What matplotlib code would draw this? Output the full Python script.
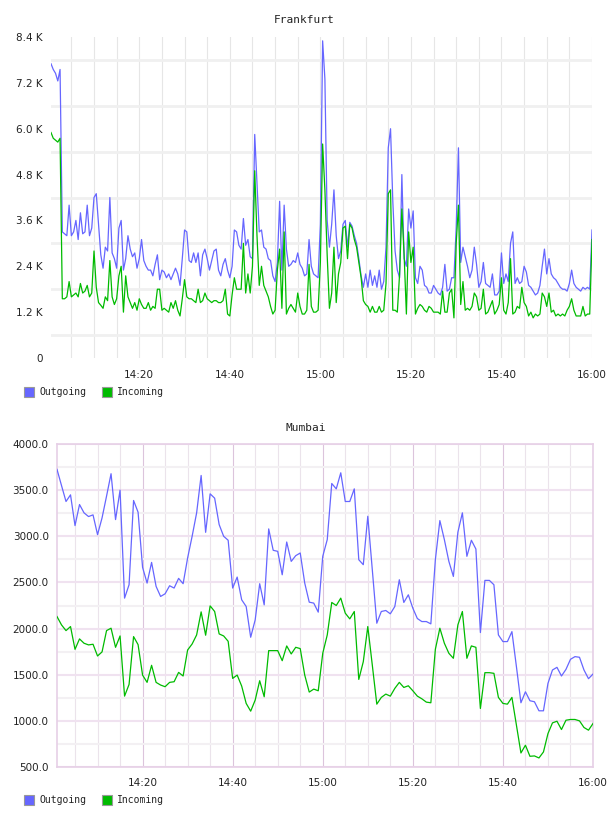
import numpy as np
import pandas as pd
import matplotlib
matplotlib.use('Agg')
import matplotlib.pyplot as plt
import matplotlib.dates as mdates
from matplotlib.patches import Rectangle

# Frankfurt traffic in K, one sample every 30 s starting 14:00:30
fra_out = [
    7.7, 7.55, 7.45, 7.25, 7.55, 3.3, 3.25, 3.2, 4.0, 3.2,
    3.3, 3.6, 3.1, 3.8, 3.25, 3.3, 4.0, 3.2, 3.4, 4.2,
    4.3, 3.5, 2.7, 2.35, 2.9, 2.8, 4.2, 2.75, 2.6, 2.35,
    3.4, 3.6, 2.3, 2.6, 3.2, 2.85, 2.65, 2.75, 2.35, 2.6,
    3.1, 2.55, 2.4, 2.3, 2.3, 2.15, 2.45, 2.7, 2.05, 2.3,
    2.25, 2.1, 2.2, 2.05, 2.2, 2.35, 2.2, 1.9, 2.6, 3.35,
    3.3, 2.55, 2.5, 2.75, 2.5, 2.75, 2.15, 2.7, 2.85, 2.6,
    2.3, 2.55, 2.8, 2.85, 2.3, 2.15, 2.45, 2.6, 2.3, 2.1,
    2.4, 3.35, 3.3, 2.95, 2.85, 3.65, 2.95, 3.1, 2.65, 2.6,
    5.85, 4.6, 3.3, 3.35, 2.9, 2.85, 2.6, 2.55, 2.15, 2.0,
    2.5, 4.1, 2.3, 4.0, 2.85, 2.4, 2.45, 2.55, 2.5, 2.75,
    2.45, 2.35, 2.15, 2.2, 3.1, 2.4, 2.2, 2.15, 2.1, 3.5,
    8.3, 7.3, 3.6, 2.9, 3.5, 4.4, 3.2, 2.6, 2.8, 3.5,
    3.6, 2.9, 3.55, 3.45, 3.2, 3.0, 2.6, 2.15, 1.85, 2.2,
    1.85, 2.3, 1.9, 2.15, 1.85, 2.3, 1.8, 2.0, 2.9, 5.5,
    6.0, 4.1, 2.8, 2.3, 2.1, 4.8, 2.6, 2.4, 3.9, 3.4,
    3.85, 2.1, 1.95, 2.4, 2.3, 1.9, 1.85, 1.7, 1.7, 1.9,
    1.8, 1.7, 1.65, 1.85, 2.45, 1.75, 1.8, 2.1, 2.1, 3.4,
    5.5, 2.5, 2.9, 2.65, 2.4, 2.1, 2.3, 2.9, 2.45, 1.85,
    2.0, 2.5, 1.95, 1.9, 1.85, 2.2, 1.65, 1.65, 1.75, 2.75,
    1.95, 2.2, 2.0, 3.0, 3.3, 1.95, 2.1, 1.95, 2.0, 2.4,
    2.25, 1.9, 1.85, 1.75, 1.65, 1.7, 1.9, 2.4, 2.85, 2.2,
    2.6, 2.2, 2.1, 2.05, 1.95, 1.85, 1.8, 1.8, 1.75, 1.95,
    2.3, 1.95, 1.85, 1.8, 1.75, 1.85, 1.8, 1.85, 1.8, 3.35,
]
fra_in = [
    5.9, 5.75, 5.7, 5.65, 5.75, 1.55, 1.55, 1.6, 2.0, 1.6,
    1.65, 1.7, 1.6, 1.95, 1.7, 1.75, 1.9, 1.6, 1.7, 2.8,
    1.85, 1.45, 1.38, 1.3, 1.6, 1.5, 2.55, 1.6, 1.4, 1.55,
    2.15, 2.4, 1.2, 2.15, 1.6, 1.45, 1.3, 1.45, 1.25, 1.55,
    1.4, 1.3, 1.3, 1.45, 1.25, 1.35, 1.3, 1.8, 1.8, 1.25,
    1.3, 1.25, 1.2, 1.45, 1.3, 1.5, 1.25, 1.1, 1.55, 2.05,
    1.6, 1.55, 1.55, 1.5, 1.45, 1.8, 1.45, 1.5, 1.7, 1.55,
    1.5, 1.45, 1.5, 1.5, 1.45, 1.45, 1.5, 1.8, 1.15, 1.1,
    1.65, 2.1, 1.8, 1.8, 1.8, 3.0, 1.7, 2.2, 1.7, 2.4,
    4.9, 3.2, 1.9, 2.4, 1.9, 1.75, 1.6, 1.35, 1.15, 1.25,
    2.3, 2.85, 1.3, 3.3, 1.15, 1.3, 1.4, 1.3, 1.2, 1.7,
    1.35, 1.15, 1.15, 1.25, 2.45, 1.35, 1.2, 1.2, 1.25, 2.5,
    5.6, 4.4, 2.7, 1.3, 1.7, 2.9, 1.45, 2.2, 2.5, 3.4,
    3.45, 2.6, 3.5, 3.4, 3.1, 2.9, 2.5, 2.1, 1.5, 1.4,
    1.35, 1.2, 1.35, 1.2, 1.2, 1.35, 1.2, 1.25, 1.95, 4.3,
    4.4, 1.25, 1.25, 1.2, 2.2, 3.9, 2.7, 1.15, 3.3, 2.5,
    2.9, 1.15, 1.3, 1.4, 1.35, 1.25, 1.2, 1.35, 1.3, 1.2,
    1.2, 1.2, 1.15, 1.75, 1.2, 1.2, 1.7, 1.8, 1.05, 3.0,
    4.0, 1.4, 2.0, 1.25, 1.3, 1.25, 1.35, 1.7, 1.6, 1.25,
    1.3, 1.8, 1.15, 1.2, 1.35, 1.5, 1.15, 1.25, 1.4, 2.1,
    1.25, 1.15, 1.45, 2.6, 1.15, 1.2, 1.35, 1.3, 1.85, 1.45,
    1.35, 1.1, 1.2, 1.05, 1.15, 1.1, 1.15, 1.7, 1.6, 1.35,
    1.7, 1.2, 1.25, 1.1, 1.15, 1.1, 1.15, 1.1, 1.25, 1.35,
    1.55, 1.25, 1.1, 1.1, 1.1, 1.35, 1.1, 1.15, 1.15, 3.1,
]
fra_yticks = [0, 1.2, 2.4, 3.6, 4.8, 6.0, 7.2, 8.4]
fra_ylabels = ['0', '1.2 K', '2.4 K', '3.6 K', '4.8 K', '6.0 K', '7.2 K', '8.4 K']

# Mumbai traffic, one sample per minute from 14:01 to 16:00
mum_out = [
    3725, 3550, 3377, 3449, 3116, 3344, 3254, 3214, 3232, 3018,
    3199, 3435, 3678, 3181, 3500, 2330, 2475, 3388, 3261, 2663,
    2493, 2717, 2457, 2348, 2377, 2464, 2439, 2544, 2486, 2765,
    3000, 3254, 3659, 3043, 3460, 3413, 3127, 3000, 2957, 2439,
    2558, 2312, 2239, 1906, 2094, 2486, 2257, 3080, 2848, 2837,
    2583, 2938, 2728, 2790, 2819, 2493, 2286, 2276, 2178,
    2783, 2964, 3572, 3514, 3688, 3377, 3377, 3514, 2746, 2692,
    3217, 2638, 2058, 2185, 2196, 2160, 2239, 2529, 2283, 2366,
    2221, 2109, 2076, 2076, 2051, 2746, 3170, 2964, 2728, 2565,
    3044, 3254, 2783, 2957, 2862, 1957, 2522, 2522, 2475, 1931,
    1859, 1859, 1967, 1587, 1196, 1315, 1218, 1207, 1109, 1109,
    1406, 1551, 1580, 1486, 1558, 1667, 1696, 1689, 1551, 1457,
    1507,
]
mum_in = [
    2130, 2040, 1978, 2022, 1775, 1888, 1841, 1823, 1830, 1703,
    1747, 1978, 2004, 1797, 1920, 1268, 1395, 1913, 1826, 1496,
    1417, 1602, 1417, 1388, 1370, 1417, 1424, 1525, 1486, 1768,
    1833, 1931, 2181, 1928, 2246, 2185, 1942, 1920, 1862, 1460,
    1496, 1377, 1189, 1105, 1225, 1435, 1261, 1761, 1761, 1761,
    1652, 1812, 1725, 1797, 1783, 1496, 1312, 1344, 1326,
    1732, 1931, 2283, 2250, 2330, 2167, 2105, 2185, 1449, 1641,
    2022, 1605, 1181, 1254, 1290, 1268, 1352, 1417, 1362, 1380,
    1326, 1268, 1239, 1203, 1196, 1775, 2004, 1841, 1732, 1678,
    2040, 2185, 1678, 1812, 1797, 1134, 1522, 1522, 1515, 1254,
    1189, 1181, 1254, 953, 652, 736, 616, 620, 598, 663,
    862, 978, 996, 906, 1007, 1015, 1015, 1000, 928, 899,
    971,
]
mum_yticks = [500, 1000, 1500, 2000, 2500, 3000, 3500, 4000]
mum_ylabels = ['500.0', '1000.0', '1500.0', '2000.0', '2500.0', '3000.0', '3500.0', '4000.0']

xtick_labels = ['14:20', '14:40', '15:00', '15:20', '15:40', '16:00']
series_names = ['Outgoing', 'Incoming']

day = '2014-01-01 '
fra_times = pd.date_range(day + '14:00:30', periods=len(fra_out), freq='30s')
mum_times = pd.date_range(day + '14:01', periods=len(mum_out), freq='1min')
xticks = pd.to_datetime([day + t for t in xtick_labels])

BLUE = '#6666ff'
GREEN = '#00bb00'
TXT = '#222222'
MONO = 'DejaVu Sans Mono'
W, H = 608, 816

fig = plt.figure(figsize=(W / 100, H / 100), dpi=100)


def px_axes(left, top, right, bottom):
    return fig.add_axes([left / W, 1 - bottom / H, (right - left) / W, (bottom - top) / H])


def legend(yc):
    for name, color, x in zip(series_names, [BLUE, GREEN], [24, 102]):
        fig.add_artist(Rectangle((x / W, 1 - (yc + 5) / H), 10 / W, 10 / H,
                                 facecolor=color, edgecolor='#999999', lw=0.8,
                                 transform=fig.transFigure))
        fig.text((x + 15) / W, 1 - yc / H, name, ha='left', va='center',
                 family=MONO, fontsize=7, color=TXT)


five_min = mdates.MinuteLocator(byminute=range(0, 60, 5))

# --- Frankfurt ---
ax1 = px_axes(51, 37, 592, 358)
ax1.plot(fra_times, fra_out, color=BLUE, lw=0.9, zorder=3)
ax1.plot(fra_times, fra_in, color=GREEN, lw=0.9, zorder=3)
ax1.set_xlim(fra_times[0], fra_times[-1])
ax1.set_ylim(0, 8.4)
ax1.set_axisbelow(True)
for s in ax1.spines.values():
    s.set_visible(False)
ax1.set_yticks(fra_yticks, fra_ylabels)
ax1.set_yticks(np.arange(0.6, 8.4, 1.2), minor=True)
ax1.set_xticks(xticks, xtick_labels)
ax1.xaxis.set_minor_locator(five_min)
ax1.grid(which='minor', axis='y', color='#f0f0f0', lw=2)
ax1.grid(which='both', axis='x', color='#e6e6e6', lw=0.8)
ax1.tick_params(which='both', length=0, labelsize=7.5, labelcolor=TXT)
ax1.tick_params(axis='x', pad=9)
ax1.tick_params(axis='y', pad=6)
fig.text(304 / W, 1 - 20 / H, 'Frankfurt', ha='center', va='center',
         family=MONO, fontsize=8, color=TXT)
legend(392)

# --- Mumbai ---
ax2 = px_axes(57, 444, 593, 767)
ax2.plot(mum_times, mum_out, color=BLUE, lw=0.9, zorder=3)
ax2.plot(mum_times, mum_in, color=GREEN, lw=0.9, zorder=3)
ax2.set_xlim(mum_times[0], mum_times[-1])
ax2.set_ylim(500, 4000)
ax2.set_axisbelow(True)
for s in ax2.spines.values():
    s.set_color('#e6cfe6')
    s.set_linewidth(1.2)
ax2.set_yticks(mum_yticks, mum_ylabels)
ax2.set_yticks(np.arange(750, 4000, 500), minor=True)
ax2.set_xticks(xticks, xtick_labels)
ax2.xaxis.set_minor_locator(five_min)
ax2.grid(which='major', axis='y', color='#f0e2f0', lw=1.5)
ax2.grid(which='minor', axis='y', color='#f3f0f3', lw=1.5)
ax2.grid(which='major', axis='x', color='#dcc4dc', lw=0.8)
ax2.grid(which='minor', axis='x', color='#ebe3eb', lw=0.8)
ax2.tick_params(which='both', length=0, labelsize=7.5, labelcolor=TXT)
ax2.tick_params(axis='x', pad=8)
ax2.tick_params(axis='y', pad=6)
fig.text(306 / W, 1 - 428 / H, 'Mumbai', ha='center', va='center',
         family=MONO, fontsize=8, color=TXT)
legend(800)

fig.savefig('out.png', dpi=100)
